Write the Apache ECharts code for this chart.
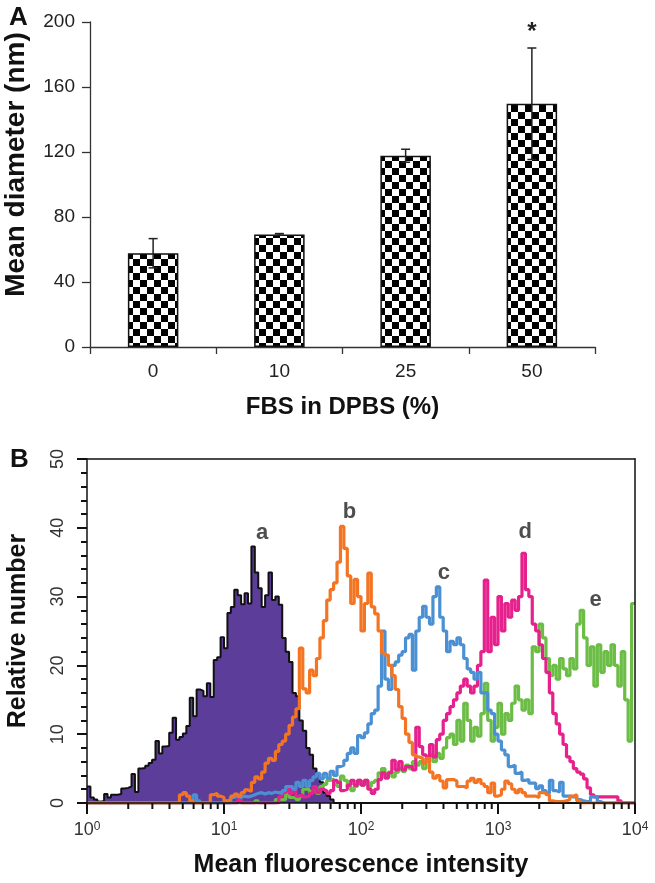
<!DOCTYPE html>
<html><head><meta charset="utf-8">
<script src="https://cdn.jsdelivr.net/npm/echarts@6/dist/echarts.min.js"></script>
<style>html,body{margin:0;padding:0;background:#fff}#c{width:655px;height:883px}</style>
</head><body><div id="c"></div>
<script>
// ---------- Panel A data ----------
const fbsLevels = ['0', '10', '25', '50'];
const meanDiameter = [57.7, 69.3, 117.7, 149.7];
const diameterSD = [9.0, 0.5, 4.0, 34.3];
const significance = ['', '', '', '*'];

// ---------- Panel B data (histogram channels, 40 per decade, 10^0 .. 10^4) ----------
const BINS_PER_DECADE = 40;
const N_BINS = 160;
const decadeTicks = [0, 1, 2, 3, 4];          // exponents: 10^0 .. 10^4

const histAStart = 0;
const histA = [
  2.4,0.8,0.5,0.2,0.3,1.3,0.8,1.2,1.2,1.3,
  2.1,2.2,2.4,4.2,1.6,5.0,5.1,5.4,5.8,6.3,
  9.0,7.2,8.2,8.3,10.2,12.4,9.2,9.6,10.1,11.2,
  15.3,12.6,16.5,16.3,15.5,17.4,15.4,20.8,21.2,24.1,
  22.5,27.6,28.5,31.0,30.2,28.9,30.5,29.0,37.3,33.5,
  31.2,28.5,30.2,33.5,29.5,30.0,28.8,24.0,22.0,20.5,
  16.0,15.5,12.0,10.5,8.0,7.0,5.0,4.0,3.0,1.5,
  1.0,0.5
];
const histBStart = 20;
const histB = [
  0,0,0,0,0,0,0,1.2,1.5,1.0,
  0.3,0,0,0,0,0,1.2,1.4,1.0,0.8,
  0.3,0.5,1.0,1.3,1.0,1.5,1.9,1.7,3.0,3.8,
  3.5,4.5,5.8,6.5,6.2,7.5,8.5,9.0,10.0,11.3,
  12.5,13.7,22.5,16.6,16.0,19.3,18.5,21,24,26.5,
  29.5,31,32,35,40.2,37,33,29,32.5,30,
  25,29,33.4,28.5,27.5,25,21.8,21.5,20,18.5,
  16.5,14,12.3,10,8.8,7,6.7,6.5,5.8,6.5,
  4.5,3.6,4.0,3.2,2.2,3.4,3.4,3.2,2.4,2.4,
  2.2,3.2,3.6,3.0,3.4,2.8,2.4,1.5,2.9,1.0,
  1.2,2.0,3.2,2.8,2.0,1.5,2.0,1.5,1.0,1.0,
  1.0,0.8,1.5,1.5,1.2,0.3,0.2,0.2,0.2,0.3,
  0.5,1.0,1.2,0.3
];
const histCStart = 30;
const histC = [
  0,1.2,0.3,0,0,0,0,0,0,0,
  0,0,0.8,1.0,0.8,1.0,0.9,1.0,1.2,1.4,
  1.5,1.3,1.5,1.4,1.6,1.5,1.4,1.8,2.4,2.4,
  2.0,3.0,2.4,3.3,2.4,3.3,3.8,4.3,3.5,4.3,
  3.6,4.6,4.0,5.3,5.5,6.2,7.2,8.0,7.2,9.8,
  9.5,10.2,11.5,13,13.5,17,25,18,16.5,20,
  20.5,21.5,22,24,24.5,19.3,25,27,28.6,27,
  26,30,31.4,27,25,22,23.5,23,24,23,
  21,19.5,19,18,19,16,16,13.5,13,10,
  9,7.7,7.0,5.3,5.5,4.3,4.5,3.3,3.4,2.9,
  2.9,2.1,2.5,1.8,1.4,3.3,1.8,1.6,3.0,1.0,
  1.0,0.9,0.9,0.5,0.3,0.2,0.3,0.9,0.9,0.2
];
const histDStart = 40;
const histD = [
  0,0,0,0,0.5,0,0,0,0,0,
  0,0,0,0,0,0,0.9,1.5,2.2,1.4,
  1.8,1.0,1.2,0.9,1.0,1.4,2.4,1.5,2.0,1.8,
  1.4,1.8,3.3,3.0,1.8,2.0,2.6,3.3,2.6,3.3,
  2.6,3.3,2.0,1.4,2.0,3.4,4.4,3.6,4.4,6.2,
  4.8,6.0,4.8,5.3,5.3,4.8,11,8.2,7.0,6.7,
  8.5,6.7,9.2,10,12,13,14,15,16,17,
  18,17,16,17,20,22,32.4,22,27,23,
  30,25,29,27,29.5,28,30,36.3,31,30,
  26,25,23,21,19,16,13,11.5,10,8.5,
  6.7,6.0,5.0,4.5,4.2,3.5,2.2,1.2,0.9,0.9,
  0.9,0.9,0.9,0.9,0.9,0.3
];
const histEStart = 40;
const histE = [
  0,0,0,0,0,0,0,0,0,0.3,
  0,0,0,0,0,0.5,0.5,0.5,1.4,0.8,
  0.8,0.5,1.0,2.0,1.9,1.5,1.8,1.4,2.4,2.7,
  3.3,3.5,2.7,2.4,3.9,3.3,2.4,1.8,2.4,3.3,
  2.6,3.3,2.4,3.0,3.3,4.4,5.0,4.0,4.5,3.8,
  4.5,5.0,4.6,5.5,5.0,6.0,5.5,6.0,5.0,6.5,
  7.0,6.0,7.2,6.5,8.0,9.5,10.0,8.5,12,9,
  14.5,12,9,11,9.7,13,17.4,12,9,11,
  14.5,10,13,12,14.5,17,15,13.5,15,13,
  22.7,22,26,24,21,18.5,20,18,21,19.5,
  18.5,21,19.5,26,28,24,20,22.7,17,23,
  19,22,20,23,20,17,22,15,9,29
];
// curve letters: [intensity, relative number, letter]
const curveLabels = [[19, 39.2, 'a'], [82.5, 42.3, 'b'], [402, 33.4, 'c'], [1583, 39.4, 'd'], [5150, 29.5, 'e']];

// ---------- helpers ----------
const FONT = 'Arial, "Liberation Sans", Helvetica, sans-serif';
// x is plotted as log10(intensity) on a linear value axis (decades)
function binEdge(i) { return i / BINS_PER_DECADE; }
function stepData(start, vals) {
  const full = new Array(N_BINS).fill(0);
  vals.forEach((v, k) => { if (start + k < N_BINS) full[start + k] = v; });
  const pts = full.map((v, i) => [binEdge(i), v]);
  pts.push([binEdge(N_BINS), full[N_BINS - 1]]);
  return pts;
}
function checker(cell) {
  const c = document.createElement('canvas');
  c.width = c.height = cell * 2;
  const g = c.getContext('2d');
  g.fillStyle = '#fff'; g.fillRect(0, 0, cell * 2, cell * 2);
  g.fillStyle = '#000'; g.fillRect(0, 0, cell, cell); g.fillRect(cell, cell, cell, cell);
  return c;
}
const minorTickExps = [];
for (let d = 0; d < 4; d++) for (let k = 2; k <= 9; k++) minorTickExps.push(d + Math.log10(k));

function histSeries(name, start, vals, color, z, fill) {
  const s = {
    name, type: 'line', xAxisIndex: 1, yAxisIndex: 1, step: 'end',
    data: stepData(start, vals), symbol: 'none', showSymbol: false, z,
    lineStyle: { color: fill ? '#111' : color, width: fill ? 2 : 3.2 },
    itemStyle: { color }
  };
  if (fill) s.areaStyle = { color: fill, opacity: 1 };
  return s;
}
const boxLine = { color: '#111', width: 1.5 };

const chart = echarts.init(document.getElementById('c'), null, { renderer: 'canvas' });
chart.setOption({
  animation: false,
  textStyle: { fontFamily: FONT },
  title: [
    { text: 'A', left: 4, top: 0, textStyle: { fontSize: 26, fontWeight: 'bold', color: '#111', fontFamily: FONT } },
    { text: 'B', left: 5, top: 442, textStyle: { fontSize: 26, fontWeight: 'bold', color: '#111', fontFamily: FONT } }
  ],
  grid: [
    { left: 90, top: 22, width: 505, height: 325, outerBoundsMode: 'none', containLabel: false },
    { left: 87, top: 459, width: 548, height: 344, outerBoundsMode: 'none', containLabel: false }
  ],
  xAxis: [
    {
      type: 'category', gridIndex: 0, data: fbsLevels,
      axisLine: { lineStyle: { color: '#333', width: 1.3 } },
      axisTick: { show: true, length: 7, lineStyle: { color: '#333', width: 1.3 } },
      axisLabel: { fontSize: 19, color: '#222', margin: 15 },
      name: 'FBS in DPBS (%)', nameLocation: 'middle', nameGap: 48,
      nameTextStyle: { fontSize: 24, fontWeight: 'bold', color: '#111' }
    },
    {
      type: 'value', gridIndex: 1, position: 'bottom', zlevel: 1,
      min: decadeTicks[0], max: decadeTicks[decadeTicks.length - 1], interval: 1,
      axisLine: { show: true, onZero: false, lineStyle: boxLine },
      axisTick: { show: true, length: 11, lineStyle: { color: '#111', width: 2 } },
      axisLabel: {
        margin: 18, color: '#333',
        formatter: v => '{b|10}{s|' + Math.round(v) + '}',
        rich: { b: { fontSize: 18, color: '#333' }, s: { fontSize: 12, color: '#333', verticalAlign: 'top' } }
      },
      splitLine: { show: false },
      name: 'Mean fluorescence intensity', nameLocation: 'middle', nameGap: 50,
      nameTextStyle: { fontSize: 25, fontWeight: 'bold', color: '#111' }
    },
    {
      type: 'value', gridIndex: 1, position: 'top', zlevel: 1,
      min: decadeTicks[0], max: decadeTicks[decadeTicks.length - 1],
      axisLine: { show: true, onZero: false, lineStyle: boxLine },
      axisTick: { show: false }, axisLabel: { show: false }, splitLine: { show: false }
    }
  ],
  yAxis: [
    {
      type: 'value', gridIndex: 0, min: 0, max: 200, interval: 40,
      axisLine: { show: true, lineStyle: { color: '#333', width: 1.3 } },
      axisTick: { show: true, length: 8, lineStyle: { color: '#333', width: 1.3 } },
      axisLabel: { fontSize: 19, color: '#222', margin: 15 },
      splitLine: { show: false },
      name: 'Mean diameter (nm)', nameLocation: 'middle', nameGap: 60,
      nameTextStyle: { fontSize: 28, fontWeight: 'bold', color: '#111', padding: [0, 0, 0, 40] }
    },
    {
      type: 'value', gridIndex: 1, min: 0, max: 50, interval: 10, zlevel: 1,
      axisLine: { show: true, lineStyle: boxLine },
      axisTick: { show: true, length: 10, lineStyle: { color: '#111', width: 2 } },
      minorTick: { show: true, splitNumber: 5, length: 6, lineStyle: { color: '#111', width: 2 } },
      axisLabel: { fontSize: 18, color: '#333', rotate: 90, margin: 20 },
      splitLine: { show: false },
      name: 'Relative number', nameLocation: 'middle', nameGap: 56,
      nameTextStyle: { fontSize: 25, fontWeight: 'bold', color: '#111' }
    },
    {
      type: 'value', gridIndex: 1, position: 'right', min: 0, max: 50, zlevel: 1,
      axisLine: { show: true, onZero: false, lineStyle: boxLine },
      axisTick: { show: false }, axisLabel: { show: false }, splitLine: { show: false }
    }
  ],
  series: [
    {
      type: 'bar', xAxisIndex: 0, yAxisIndex: 0, data: meanDiameter, barWidth: '40%',
      itemStyle: { color: { image: checker(7), repeat: 'repeat' }, borderColor: '#111', borderWidth: 1.5 }
    },
    {
      type: 'custom', xAxisIndex: 0, yAxisIndex: 0, z: 10,
      data: fbsLevels.map((c, i) => [i, meanDiameter[i], diameterSD[i]]),
      renderItem: (params, api) => {
        const i = api.value(0), m = api.value(1), e = api.value(2);
        const top = api.coord([i, m + e]), bot = api.coord([i, m - e]);
        const hw = 4.5;
        const st = { stroke: '#222', lineWidth: 1.5 };
        const ch = [
          { type: 'line', shape: { x1: top[0], y1: top[1], x2: bot[0], y2: bot[1] }, style: st },
          { type: 'line', shape: { x1: top[0] - hw, y1: top[1], x2: top[0] + hw, y2: top[1] }, style: st },
          { type: 'line', shape: { x1: bot[0] - hw, y1: bot[1], x2: bot[0] + hw, y2: bot[1] }, style: st }
        ];
        if (significance[params.dataIndex]) {
          ch.push({ type: 'text', style: { text: significance[params.dataIndex], x: top[0], y: top[1] - 4,
            align: 'center', verticalAlign: 'bottom', font: 'bold 24px ' + FONT, fill: '#222' } });
        }
        return { type: 'group', children: ch };
      }
    },
    histSeries('a', histAStart, histA, '#5c3d99', 2, '#5c3d99'),
    histSeries('e', histEStart, histE, '#6bbd45', 3),
    histSeries('d', histDStart, histD, '#e6208c', 4),
    histSeries('c', histCStart, histC, '#4a90d2', 5),
    histSeries('b', histBStart, histB, '#f37524', 6),
    {
      // minor (2..9 per decade) ticks of the log intensity axis
      type: 'custom', xAxisIndex: 1, yAxisIndex: 1, clip: false, z: 8, zlevel: 1,
      data: minorTickExps.map(v => [v, 0]),
      renderItem: (params, api) => {
        const p = api.coord([api.value(0), api.value(1)]);
        return { type: 'line', shape: { x1: p[0], y1: p[1], x2: p[0], y2: p[1] + 6 }, style: { stroke: '#111', lineWidth: 2 } };
      }
    },
    {
      type: 'scatter', xAxisIndex: 1, yAxisIndex: 1, symbolSize: 1, z: 20,
      data: curveLabels.map(d => [Math.log10(d[0]), d[1], d[2]]),
      itemStyle: { color: 'rgba(0,0,0,0)' },
      label: { show: true, position: 'inside', formatter: p => p.value[2], fontSize: 22, fontWeight: 'bold', color: '#222' }
    }
  ]
});
</script></body></html>
